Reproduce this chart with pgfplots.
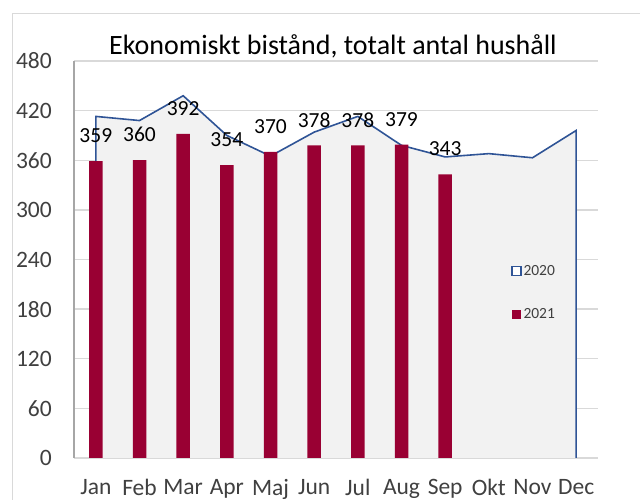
\documentclass[border=0pt]{standalone}
\usepackage{fontspec}
\setmainfont{Carlito}
\usepackage{pgfplots}
\pgfplotsset{compat=1.18}
\definecolor{barred}{RGB}{153,0,51}
\definecolor{lineblue}{RGB}{47,84,150}
\definecolor{areagray}{RGB}{242,242,242}
\definecolor{gridgray}{RGB}{217,217,217}
\definecolor{axisgray}{RGB}{166,166,166}
\definecolor{labgray}{RGB}{64,64,64}

\begin{document}
\begin{tikzpicture}
  % outer chart frame (left and top edges are visible)
  \draw[gridgray, line width=1bp] (12bp,0bp) -- (12bp,486bp) -- (640bp,486bp);
  \begin{axis}[
    at={(74bp,42bp)}, anchor=south west,
    scale only axis,
    width=524bp, height=397bp,
    xmin=-0.5, xmax=11.5,
    ymin=0, ymax=480,
    xtick={0,...,11},
    xticklabels={Jan,Feb,Mar,Apr,Maj,Jun,Jul,Aug,Sep,Okt,Nov,Dec},
    ytick={0,60,...,480},
    major tick length=0pt,
    axis x line*=bottom,
    axis y line*=left,
    x axis line style={draw=gridgray, line width=1.5bp, -},
    y axis line style={draw=axisgray, line width=1.2bp, -},
    ymajorgrids,
    grid style={draw=gridgray, line width=1.4bp},
    /pgf/number format/assume math mode=true,
    xticklabel style={font=\fontsize{23.5bp}{26bp}\selectfont, text=labgray, inner sep=0pt, yshift=-21bp},
    yticklabel style={font=\fontsize{23.5bp}{26bp}\selectfont, text=labgray, inner sep=0pt, xshift=-22bp},
    title={Ekonomiskt bistånd, totalt antal hushåll},
    title style={at={(0.5,1)}, anchor=base, inner sep=0pt, yshift=0.5bp, xshift=-3bp,
      font=\fontsize{28bp}{31bp}\selectfont},
    legend style={at={(0.834,0.49)}, anchor=north west, draw=none, fill=none,
      inner sep=0pt, row sep=29bp, font=\fontsize{15.5bp}{18bp}\selectfont,
      text=labgray, nodes={inner sep=1.5bp}},
    legend cell align=left,
  ]

  % 2020 (area)
  \addplot[draw=lineblue, line width=1.6bp, fill=areagray,
    legend image code/.code={\draw[lineblue, line width=1.8bp, fill=white] (0bp,-4.5bp) rectangle (9bp,4.5bp);}]
    coordinates {
    (0,0) (0,413) (1,408) (2,438) (3,390) (4,365) (5,394)
    (6,413) (7,378) (8,364) (9,368) (10,363) (11,396) (11,0)
  };

  % 2021 (bars)
  \addplot[ybar, bar width=13.5bp, fill=barred, draw=none,
    nodes near coords,
    every node near coord/.append style={font=\fontsize{21.5bp}{24bp}\selectfont,
      text=black, inner sep=0pt, yshift=18bp},
    legend image code/.code={\fill[barred] (0bp,-4.5bp) rectangle (9bp,4.5bp);}]
    coordinates {
    (0,359) (1,360) (2,392) (3,354) (4,370) (5,378) (6,378) (7,379) (8,343)
  };

  \legend{2020,2021}
  \end{axis}
  \pgfresetboundingbox
  \path[use as bounding box] (0bp,0bp) rectangle (640bp,500bp);
\end{tikzpicture}
\end{document}
